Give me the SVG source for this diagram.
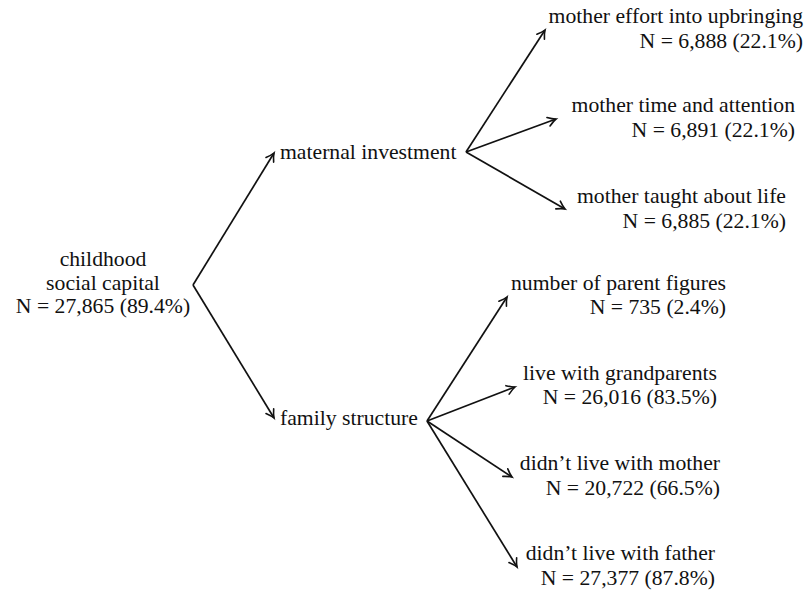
<svg xmlns="http://www.w3.org/2000/svg" width="810" height="590" viewBox="0 0 810 590">
<style>
text{font-family:"Liberation Serif","Times New Roman",serif;font-size:21.7px;fill:#111}
.m{text-anchor:middle}.e{text-anchor:end}
.c{stroke:#111;stroke-width:1.7;fill:none}
</style>
<defs>
<marker id="ah" markerUnits="userSpaceOnUse" markerWidth="14" markerHeight="14" viewBox="-10 -7 12 14" refX="0" refY="0" orient="auto">
<path d="M-8,-4.5 Q-3,-1 0,0 Q-3,1 -8,4.5" fill="none" stroke="#111" stroke-width="1.6" stroke-linecap="round"/>
</marker>
</defs>
<rect width="810" height="590" fill="#fff"/>
<g id="connectors">
<path class="c" d="M193,285 L274,153" marker-end="url(#ah)"/>
<path class="c" d="M193,285 L274,418" marker-end="url(#ah)"/>
<path class="c" d="M466,152 L545,30" marker-end="url(#ah)"/>
<path class="c" d="M466,152 L556,119" marker-end="url(#ah)"/>
<path class="c" d="M466,152 L565,209" marker-end="url(#ah)"/>
<path class="c" d="M427,421 L507,297" marker-end="url(#ah)"/>
<path class="c" d="M427,421 L515,387" marker-end="url(#ah)"/>
<path class="c" d="M427,421 L512,477" marker-end="url(#ah)"/>
<path class="c" d="M427,421 L517,567" marker-end="url(#ah)"/>
</g>
<g id="root">
<text class="m" x="103" y="266">childhood</text>
<text class="m" x="103" y="290">social capital</text>
<text class="m" x="103" y="313">N = 27,865 (89.4%)</text>
</g>
<g id="maternal"><text x="280" y="159">maternal investment</text></g>
<g id="family"><text x="280" y="425">family structure</text></g>
<g id="effort"><text class="e" x="803" y="23">mother effort into upbringing</text><text class="e" x="803" y="48">N = 6,888 (22.1%)</text></g>
<g id="time"><text class="e" x="795" y="112">mother time and attention</text><text class="e" x="795" y="137">N = 6,891 (22.1%)</text></g>
<g id="taught"><text class="e" x="786" y="203">mother taught about life</text><text class="e" x="786" y="228">N = 6,885 (22.1%)</text></g>
<g id="parents"><text class="e" x="726" y="290">number of parent figures</text><text class="e" x="726" y="314">N = 735 (2.4%)</text></g>
<g id="grand"><text class="e" x="717" y="380">live with grandparents</text><text class="e" x="717" y="404">N = 26,016 (83.5%)</text></g>
<g id="mother"><text class="e" x="720" y="470">didn’t live with mother</text><text class="e" x="720" y="495">N = 20,722 (66.5%)</text></g>
<g id="father"><text class="e" x="715" y="560">didn’t live with father</text><text class="e" x="715" y="585">N = 27,377 (87.8%)</text></g>
</svg>
